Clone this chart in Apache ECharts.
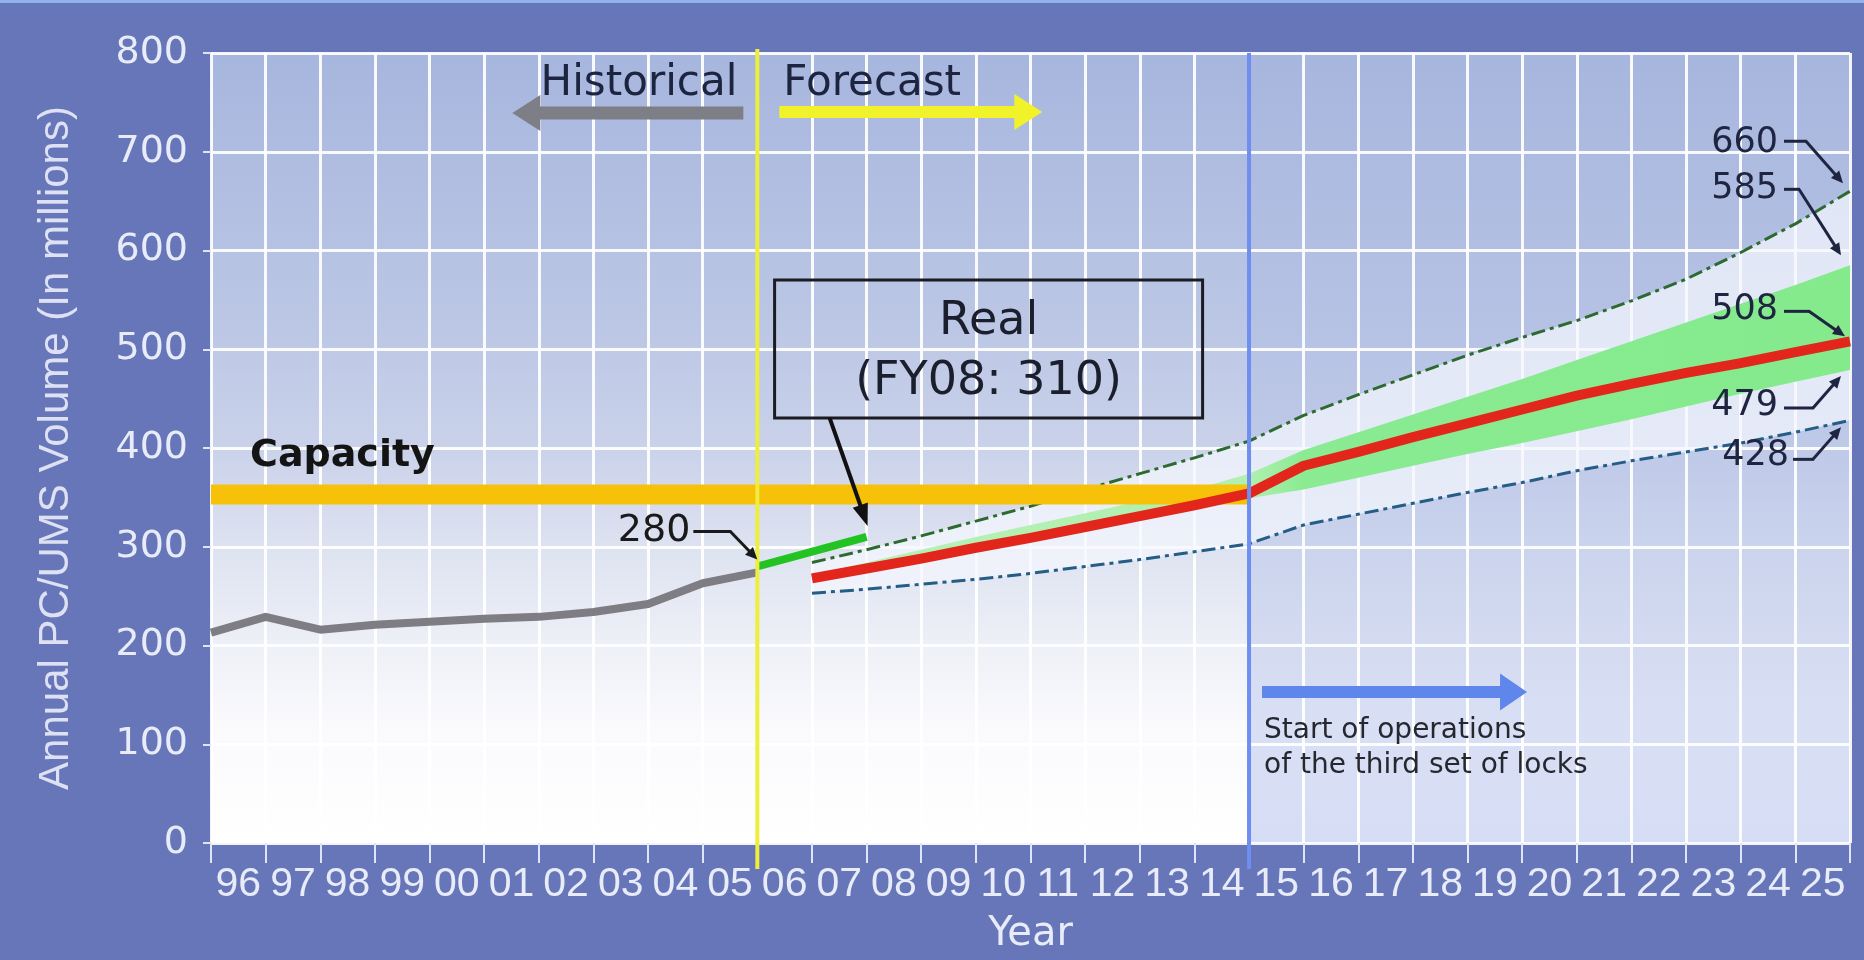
<!DOCTYPE html>
<html>
<head>
<meta charset="utf-8">
<title>Annual PC/UMS Volume</title>
<script src="https://cdn.jsdelivr.net/npm/echarts@6/dist/echarts.min.js"></script>
<style>
  html, body { margin: 0; padding: 0; background: #6676b9; }
  #chart { width: 1864px; height: 960px; }
</style>
</head>
<body>
<div id="chart"></div>
<script>
// ---- data (PC/UMS tons, millions) ----
const yearLabels = ['96','97','98','99','00','01','02','03','04','05','06','07','08','09','10',
                    '11','12','13','14','15','16','17','18','19','20','21','22','23','24','25'];
const axisStartYear = 1996;
const axisEndYear = 2026;
const historyEndYear = 2006;   // start of the forecast period
const locksYear = 2015;        // start of operations of the third set of locks

const histYears  = [1996, 1997, 1998, 1999, 2000, 2001, 2002, 2003, 2004, 2005, 2006];
const histValues = [213, 229, 216, 221, 224, 227, 229, 234, 242, 263, 274];

const realYears  = [2006, 2008];
const realValues = [280, 310];

const capacityYears  = [1996, 2015];
const capacityValues = [353, 353];

const forecastYears = [2007, 2008, 2009, 2010, 2011, 2012, 2013, 2014, 2015, 2016,
                       2017, 2018, 2019, 2020, 2021, 2022, 2023, 2024, 2025, 2026];
const forecastMid   = [268, 278, 288, 299, 309, 320, 331, 342, 354, 382,
                       396, 411, 425, 439, 453, 465, 476, 486, 497, 508];
const forecastHigh  = [284, 297, 311, 326, 341, 358, 374, 390, 407, 433,
                       454, 474, 494, 512, 529, 549, 571, 598, 627, 660];
const forecastLow   = [253, 257, 262, 267, 273, 280, 287, 295, 303, 322,
                       333, 344, 355, 365, 377, 387, 396, 405, 416, 428];
const bandUpper     = [271, 284, 297, 310, 322, 334, 346, 358, 374, 398,
                       416, 434, 452, 470, 489, 508, 527, 546, 565, 585];
const bandLower     = [268, 278, 288, 299, 309, 320, 331, 342, 349, 358,
                       370, 382, 394, 405, 417, 429, 442, 455, 467, 479];

// ---- helpers ----
const pairs = (xs, ys) => xs.map((x, i) => [x, ys[i]]);
const last = arr => arr[arr.length - 1];

function bandSeries(name, lower, upper, fillFn, z) {
  return {
    type: 'custom', name, xAxisIndex: 1, yAxisIndex: 0, z, silent: true,
    data: forecastYears.map((yr, i) => [yr, lower[i], upper[i]]),
    encode: { x: 0, y: [1, 2] },
    renderItem: (params, api) => {
      if (params.dataIndex !== 0) return null;
      const top = forecastYears.map((yr, i) => api.coord([yr, upper[i]]));
      const bot = forecastYears.map((yr, i) => api.coord([yr, lower[i]])).reverse();
      return { type: 'polygon', shape: { points: top.concat(bot) }, style: { fill: fillFn(api) } };
    }
  };
}

function lineSeries(name, data, color, width, z, dash) {
  return {
    type: 'line', name, xAxisIndex: 1, yAxisIndex: 0, z, silent: true,
    data, symbol: 'none', showSymbol: false,
    lineStyle: { color, width, type: dash || 'solid', cap: 'butt', join: 'round' }
  };
}

const chart = echarts.init(document.getElementById('chart'), null, { renderer: 'canvas', width: 1864, height: 960 });

const labelColor = '#e8ebf8';

chart.setOption({
  animation: false,
  backgroundColor: '#6676b9',
  grid: {
    left: 211, right: 14, top: 53, bottom: 108, show: true, borderWidth: 0, z: 0,
    backgroundColor: {
      type: 'linear', x: 0, y: 0, x2: 0, y2: 1,
      colorStops: [
        { offset: 0, color: '#a7b6de' },
        { offset: 0.35, color: '#bcc7e5' },
        { offset: 0.5, color: '#cad2ea' },
        { offset: 0.63, color: '#dee3f1' },
        { offset: 0.75, color: '#eef0f7' },
        { offset: 0.85, color: '#fafafd' },
        { offset: 1, color: '#ffffff' }
      ]
    }
  },
  xAxis: [
    {
      type: 'category', data: yearLabels, boundaryGap: true, z: 2,
      axisLine: { show: false },
      axisTick: { show: true, length: 20, lineStyle: { color: '#dfe4f6', width: 2 } },
      axisLabel: { interval: 0, color: labelColor, fontFamily: 'Liberation Sans', fontSize: 41, margin: 21 },
      splitLine: { show: true, interval: 0, lineStyle: { color: 'rgba(255,255,255,0.92)', width: 3 } },
      name: 'Year', nameLocation: 'middle', nameGap: 72,
      nameTextStyle: { color: labelColor, fontFamily: 'DejaVu Sans', fontSize: 40 }
    },
    { type: 'value', min: axisStartYear, max: axisEndYear, show: false }
  ],
  yAxis: {
    type: 'value', min: 0, max: 800, interval: 100, z: 2,
    axisLine: { show: false },
    axisTick: { show: true, length: 8, lineStyle: { color: '#e0e4f6', width: 2 } },
    axisLabel: { color: labelColor, fontFamily: 'DejaVu Sans', fontSize: 38, margin: 23, padding: [6, 0, 0, 0] },
    splitLine: { show: true, lineStyle: { color: 'rgba(255,255,255,0.92)', width: 3 } },
    name: 'Annual PC/UMS Volume (In millions)', nameLocation: 'middle', nameGap: 134,
    nameTextStyle: { color: '#dde1f3', fontFamily: 'Liberation Sans', fontSize: 42 }
  },
  series: [
    {
      type: 'line', name: 'locks period', xAxisIndex: 1, yAxisIndex: 0, z: 1, silent: true,
      data: [[locksYear, 0]], symbol: 'none', lineStyle: { width: 0 },
      markArea: {
        silent: true,
        itemStyle: {
          color: {
            type: 'linear', x: 0, y: 0, x2: 0, y2: 1,
            colorStops: [
              { offset: 0, color: 'rgba(95,125,215,0)' },
              { offset: 0.4, color: 'rgba(95,125,215,0.08)' },
              { offset: 1, color: 'rgba(95,125,215,0.26)' }
            ]
          }
        },
        data: [[{ xAxis: locksYear, yAxis: 800 }, { xAxis: axisEndYear, yAxis: 0 }]]
      }
    },
    bandSeries('range', forecastLow, forecastHigh, () => 'rgba(244,246,253,0.72)', 3),
    bandSeries('likely band', bandLower, bandUpper, api => {
      const x0 = api.coord([forecastYears[0], 0])[0];
      const x1 = api.coord([last(forecastYears), 0])[0];
      const span = last(forecastYears) - forecastYears[0];
      const s0 = (locksYear - forecastYears[0]) / span;
      const s1 = (locksYear + 1 - forecastYears[0]) / span;
      return {
        type: 'linear', x: x0, y: 0, x2: x1, y2: 0, global: true,
        colorStops: [
          { offset: 0, color: '#b6f1b4' },
          { offset: s0, color: '#b0f0b0' },
          { offset: s1, color: '#8aeb92' },
          { offset: 1, color: '#84ea8c' }
        ]
      };
    }, 4),
    lineSeries('high', pairs(forecastYears, forecastHigh), '#2d6a30', 3, 5, [14, 5, 4, 5]),
    lineSeries('low', pairs(forecastYears, forecastLow), '#245d86', 3, 5, [14, 5, 4, 5]),
    lineSeries('capacity', pairs(capacityYears, capacityValues), '#f7c10a', 20, 6),
    lineSeries('forecast', pairs(forecastYears, forecastMid), '#e3261b', 10, 7),
    lineSeries('real', pairs(realYears, realValues), '#22c322', 8, 8),
    lineSeries('historical', pairs(histYears, histValues), '#7d7d83', 8, 8)
  ]
});

// ---- annotations, placed from the chart's own coordinate conversion ----
const px = (x, y) => chart.convertToPixel({ xAxisIndex: 1, yAxisIndex: 0 }, [x, y]);
const Z = 100;

function arrow(x1, y1, x2, y2, width, color, headLen, headWidth) {
  const dx = x2 - x1, dy = y2 - y1, L = Math.hypot(dx, dy);
  const ux = dx / L, uy = dy / L, nx = -uy, ny = ux;
  const bx = x2 - ux * headLen, by = y2 - uy * headLen;
  return [
    { type: 'line', z: Z, silent: true,
      shape: { x1, y1, x2: bx + ux * 2, y2: by + uy * 2 },
      style: { stroke: color, lineWidth: width } },
    { type: 'polygon', z: Z, silent: true,
      shape: { points: [[x2, y2], [bx + nx * headWidth / 2, by + ny * headWidth / 2], [bx - nx * headWidth / 2, by - ny * headWidth / 2]] },
      style: { fill: color } }
  ];
}
function text(str, x, y, opts) {
  return {
    type: 'text', z: Z, silent: true, x, y,
    style: Object.assign({
      text: str, fill: '#1d2440', fontFamily: 'DejaVu Sans', fontSize: 36,
      align: 'left', verticalAlign: 'middle'
    }, opts || {})
  };
}
function polyline(points, color, width) {
  return { type: 'polyline', z: Z, silent: true, shape: { points },
           style: { stroke: color, lineWidth: width, fill: null } };
}

const gridTop = px(axisStartYear, 800)[1];
const gridBottom = px(axisStartYear, 0)[1];
const xY = px(historyEndYear, 0)[0];
const xB = px(locksYear, 0)[0];
const els = [];

// frame highlight along the top
els.push({ type: 'rect', z: Z, silent: true, shape: { x: 0, y: 0, width: 1864, height: 3 }, style: { fill: '#8fb3ea' } });

// period dividers
els.push({ type: 'line', z: Z, silent: true, shape: { x1: xY, y1: gridTop - 4, x2: xY, y2: gridBottom + 26 },
           style: { stroke: '#eeee3c', lineWidth: 4 } });
els.push({ type: 'line', z: Z, silent: true, shape: { x1: xB, y1: gridTop, x2: xB, y2: gridBottom + 26 },
           style: { stroke: '#6e8ef0', lineWidth: 4 } });

// Historical / Forecast
els.push(text('Historical', xY - 20, gridTop + 31, { align: 'right', fontSize: 42 }));
els.push(text('Forecast', xY + 26, gridTop + 31, { fontSize: 42 }));
els.push(...arrow(xY - 14, gridTop + 60, xY - 245, gridTop + 60, 13, '#7d7e86', 28, 36));
els.push(...arrow(xY + 22, gridTop + 59, xY + 285, gridTop + 59, 12, '#f2f22a', 28, 36));

// Capacity
const capY = px(capacityYears[0], capacityValues[0])[1];
els.push(text('Capacity', px(axisStartYear, 0)[0] + 39, capY - 38,
              { fontWeight: 'bold', fontSize: 38, fill: '#141414' }));

// Real (FY08) call-out
const P = px(realYears[1], realValues[1]);
els.push({ type: 'rect', z: Z, silent: true,
           shape: { x: P[0] - 92, y: P[1] - 257, width: 428, height: 138 },
           style: { fill: null, stroke: '#1b1b22', lineWidth: 3 } });
els.push(text('Real', P[0] + 122, P[1] - 215, { align: 'center', fontSize: 46, fill: '#1b1e2c' }));
els.push(text('(FY' + String(realYears[1]).slice(2) + ': ' + realValues[1] + ')', P[0] + 122, P[1] - 155,
              { align: 'center', fontSize: 46, fill: '#1b1e2c' }));
els.push(...arrow(P[0] - 37, P[1] - 119, P[0] + 1, P[1] - 11, 4, '#111111', 22, 16));

// 280 at the start of the forecast
const Q = px(realYears[0], realValues[0]);
els.push(text(String(realValues[0]), Q[0] - 67, Q[1] - 35, { align: 'right', fontSize: 38, fill: '#1a1a1a' }));
els.push(polyline([[Q[0] - 64, Q[1] - 35], [Q[0] - 26, Q[1] - 35]], '#1a1a1a', 3));
els.push(...arrow(Q[0] - 27, Q[1] - 35, Q[0], Q[1] - 7, 3, '#1a1a1a', 12, 11));

// end-of-period values
const endYear = last(forecastYears);
const endMarks = [
  { v: last(forecastHigh), ty: -48, tx: -72, lx0: -66, lx1: -43, ly: -50, ax: -7, ay: -8 },
  { v: last(bandUpper),    ty: -76, tx: -72, lx0: -66, lx1: -50, ly: -76, ax: -9, ay: -10 },
  { v: last(forecastMid),  ty: -31, tx: -72, lx0: -66, lx1: -40, ly: -30, ax: -5, ay: -5 },
  { v: last(bandLower),    ty: 36,  tx: -72, lx0: -66, lx1: -36, ly: 38,  ax: -9, ay: 6 },
  { v: last(forecastLow),  ty: 36,  tx: -61, lx0: -57, lx1: -36, ly: 39,  ax: -9, ay: 7 }
];
endMarks.forEach(m => {
  const R = px(endYear, m.v);
  els.push(text(String(m.v), R[0] + m.tx, R[1] + m.ty, { align: 'right', fontSize: 35, fill: '#1f2540' }));
  els.push(polyline([[R[0] + m.lx0, R[1] + m.ly], [R[0] + m.lx1, R[1] + m.ly]], '#1f2540', 3));
  els.push(...arrow(R[0] + m.lx1 - 1, R[1] + m.ly, R[0] + m.ax, R[1] + m.ay, 3, '#1f2540', 12, 11));
});

// third set of locks
const yBlue = gridTop + 639;
els.push(...arrow(xB + 13, yBlue, xB + 278, yBlue, 12, '#5f86ea', 27, 37));
els.push(text('Start of operations', xB + 15, yBlue + 39, { fontSize: 28, fill: '#25282f' }));
els.push(text('of the third set of locks', xB + 15, yBlue + 74, { fontSize: 28, fill: '#25282f' }));

chart.setOption({ graphic: { elements: els } });
</script>
</body>
</html>
